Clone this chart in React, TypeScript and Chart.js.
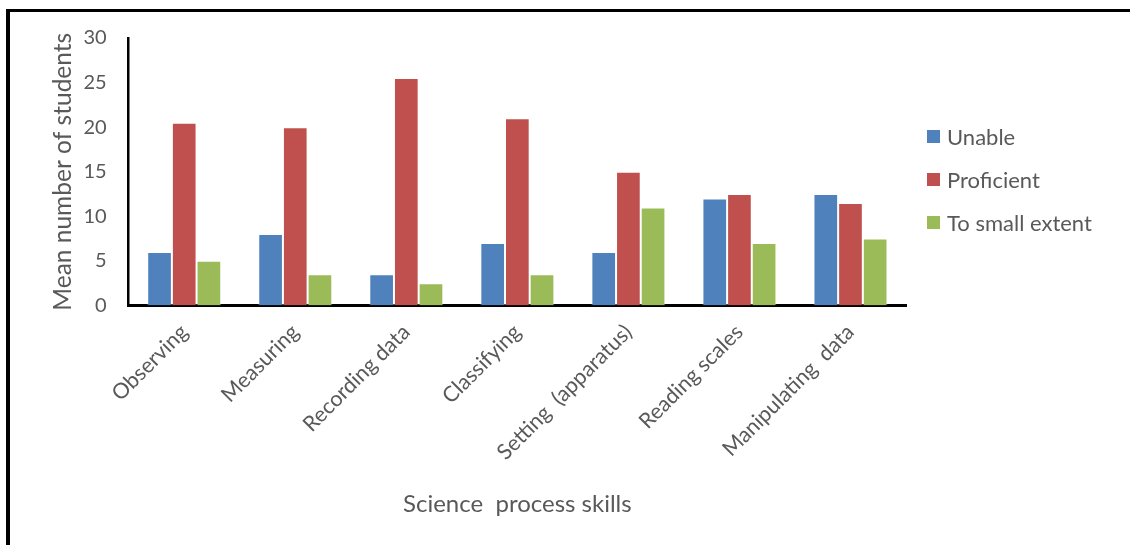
import React, { useEffect, useRef } from "react";
import { Chart, registerables } from "chart.js";

Chart.register(...registerables);

const categories = [
  "Observing",
  "Measuring",
  "Recording data",
  "Classifying",
  "Setting  (apparatus)",
  "Reading scales",
  "Manipulating  data",
];
const unable = [6, 8, 3.5, 7, 6, 12, 12.5];
const proficient = [20.5, 20, 25.5, 21, 15, 12.5, 11.5];
const smallExtent = [5, 3.5, 2.5, 3.5, 11, 7, 7.5];
const seriesNames = ["Unable", "Proficient", "To small extent"];
const seriesColors = ["#4F81BD", "#C0504D", "#9BBB59"];
const yTicks = [0, 5, 10, 15, 20, 25, 30];
const xTitle = "Science  process skills";
const yTitle = "Mean number of students";

const FONT = "Lato, 'Open Sans', sans-serif";
const TEXT = "#595959";

const legendPlugin = {
  id: "sideLegend",
  afterDraw(chart: any) {
    const ctx = chart.ctx;
    const area = chart.chartArea;
    ctx.save();
    ctx.font = `22px ${FONT}`;
    ctx.textBaseline = "middle";
    ctx.textAlign = "left";
    chart.data.datasets.forEach((ds: any, i: number) => {
      const y = area.top + 98.5 + i * 43;
      const x = area.right + 21;
      ctx.fillStyle = ds.backgroundColor;
      ctx.fillRect(x, y - 6.5, 13, 13);
      ctx.fillStyle = TEXT;
      ctx.fillText(ds.label, x + 20, y + 1);
    });
    ctx.restore();
  },
};

export default function App() {
  const ref = useRef<HTMLCanvasElement | null>(null);
  useEffect(() => {
    if (!ref.current) return;
    const data = [unable, proficient, smallExtent];
    const chart = new Chart(ref.current, {
      type: "bar",
      data: {
        labels: categories,
        datasets: seriesNames.map((name, i) => ({
          label: name,
          data: data[i],
          backgroundColor: seriesColors[i],
          borderColor: "rgba(255,255,255,0.35)",
          borderWidth: 1,
          barPercentage: 1,
          categoryPercentage: 3 / 4.5,
        })),
      },
      options: {
        animation: false,
        responsive: false,
        maintainAspectRatio: false,
        devicePixelRatio: 1,
        layout: { padding: { left: 41, right: 224, top: 10, bottom: 26 } },
        plugins: {
          legend: { display: false },
          tooltip: { enabled: false },
        },
        scales: {
          x: {
            grid: { display: false },
            border: { display: true, color: "#000", width: 3 },
            ticks: {
              color: TEXT,
              font: { family: FONT, size: 21.5 },
              maxRotation: 45,
              minRotation: 45,
              padding: 6,
            },
            title: {
              display: true,
              text: xTitle,
              color: TEXT,
              font: { family: FONT, size: 24 },
              padding: { top: 19, bottom: 0 },
            },
          },
          y: {
            min: 0,
            max: 30,
            grid: { display: false },
            border: { display: true, color: "#000", width: 2.5 },
            afterBuildTicks: (axis: any) => {
              axis.ticks = yTicks.map((v) => ({ value: v }));
            },
            ticks: {
              color: TEXT,
              font: { family: FONT, size: 20 },
              padding: 14,
            },
            title: {
              display: true,
              text: yTitle,
              color: TEXT,
              font: { family: FONT, size: 24.5, lineHeight: 1 },
              padding: { top: 0, bottom: -6 },
            },
          },
        },
      },
      plugins: [legendPlugin],
    });
    return () => chart.destroy();
  }, []);

  return (
    <div
      style={{
        position: "fixed",
        left: 6,
        top: 9,
        width: 1124,
        height: 536,
        borderLeft: "4px solid #000",
        borderTop: "3px solid #000",
        background: "#fff",
      }}
    >
      <canvas ref={ref} width={1120} height={533} style={{ display: "block" }} />
    </div>
  );
}
